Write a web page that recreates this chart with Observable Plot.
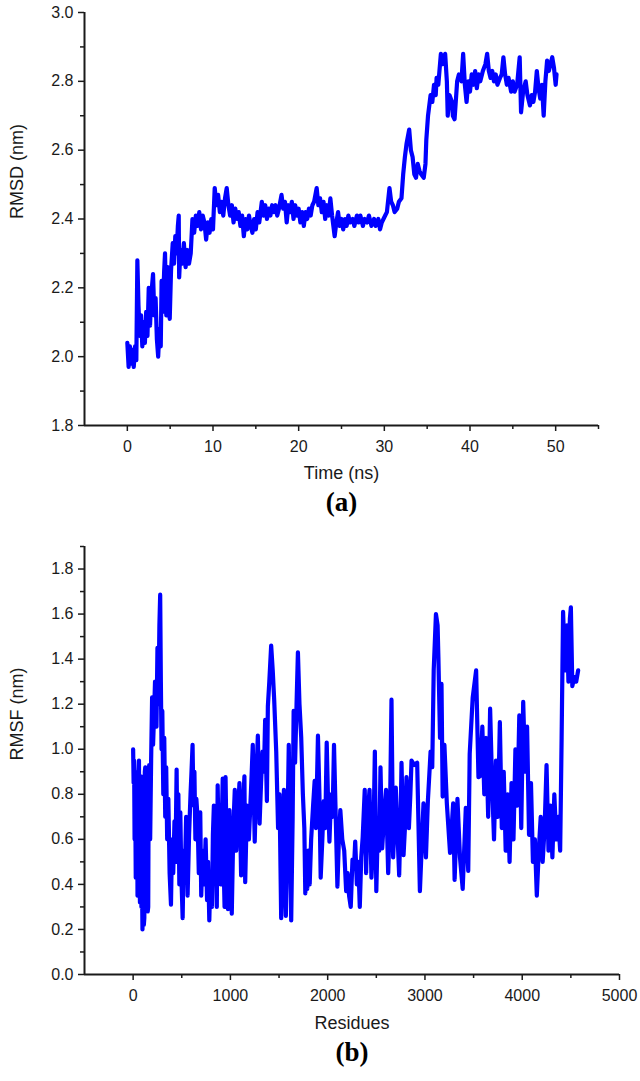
<!DOCTYPE html>
<html><head><meta charset="utf-8">
<script src="https://cdn.jsdelivr.net/npm/d3@7"></script>
<script src="https://cdn.jsdelivr.net/npm/@observablehq/plot@0.6"></script>
<style>body{margin:0;background:#fff;} #chart svg{display:block;}</style>
</head><body><div id="chart"></div>
<script>
// Panel (a): RMSD vs time
const rmsdPoints = [[0,2.04],[0.15,1.97],[0.3,2.03],[0.45,1.98],[0.6,2.02],[0.75,1.97],[0.9,2.03],[1.05,1.99],[1.17,2.28],[1.3,2.15],[1.45,2.06],[1.6,2.12],[1.75,2.03],[1.9,2.10],[2.05,2.04],[2.2,2.13],[2.35,2.06],[2.5,2.20],[2.65,2.09],[2.8,2.18],[3.0,2.24],[3.15,2.12],[3.3,2.17],[3.45,2.05],[3.6,2.00],[3.75,2.08],[3.9,2.03],[4.0,2.22],[4.15,2.13],[4.3,2.25],[4.4,2.30],[4.55,2.12],[4.7,2.26],[4.85,2.16],[4.95,2.11],[5.1,2.25],[5.3,2.33],[5.45,2.27],[5.6,2.35],[5.75,2.30],[5.9,2.38],[6.0,2.41],[6.05,2.23],[6.2,2.31],[6.4,2.27],[6.6,2.33],[6.8,2.26],[7.0,2.31],[7.2,2.27],[7.4,2.30],
[7.6,2.40],[7.8,2.36],[8.0,2.41],[8.2,2.38],[8.4,2.42],[8.6,2.37],[8.8,2.41],[9.0,2.39],[9.2,2.34],[9.4,2.39],[9.6,2.36],[9.8,2.40],[10.0,2.37],[10.2,2.49],[10.4,2.44],[10.6,2.47],[10.8,2.42],[11.0,2.45],[11.2,2.41],[11.4,2.46],[11.6,2.49],[11.8,2.44],[12.0,2.41],[12.2,2.44],[12.4,2.39],[12.6,2.43],[12.8,2.40],[13.0,2.42],[13.2,2.38],[13.4,2.41],[13.6,2.35],[13.8,2.40],[14.0,2.37],[14.2,2.41],[14.4,2.38],[14.6,2.36],[14.8,2.40],[15.0,2.37],[15.2,2.42],[15.4,2.39],[15.7,2.45],[15.9,2.41],[16.1,2.44],[16.3,2.40],[16.5,2.43],[16.7,2.41],[16.9,2.44],[17.1,2.42],[17.3,2.44],[17.5,2.41],[17.7,2.43],[18.0,2.47],[18.2,2.43],[18.4,2.45],[18.6,2.39],[18.8,2.44],[19.0,2.42],[19.2,2.45],[19.4,2.40],[19.6,2.44],[19.8,2.41],[20.0,2.43],[20.2,2.39],[20.4,2.42],[20.6,2.38],[20.8,2.42],[21.0,2.40],[21.2,2.43],[21.4,2.41],[21.6,2.44],[21.8,2.45],[22.1,2.49],[22.3,2.44],[22.5,2.46],[22.7,2.42],[22.9,2.45],[23.1,2.40],[23.3,2.44],[23.5,2.41],[23.7,2.46],[23.9,2.41],[24.2,2.35],[24.4,2.39],[24.6,2.42],[24.8,2.38],[25.0,2.40],[25.2,2.37],[25.4,2.40],[25.6,2.38],[25.8,2.41],[26.0,2.39],[26.3,2.40],[26.5,2.38],[26.8,2.41],[27.0,2.39],[27.2,2.41],[27.5,2.38],[27.7,2.40],[28.0,2.39],[28.2,2.41],[28.5,2.38],[28.8,2.40],[29.0,2.38],[29.3,2.40],[29.5,2.37],[29.7,2.39],[29.9,2.40],[30.1,2.41],[30.3,2.42],[30.6,2.49],[30.8,2.45],[31.0,2.44],[31.2,2.42],[31.5,2.43],[31.7,2.45],[32.0,2.46],[32.2,2.53],[32.4,2.58],[32.6,2.62],[32.9,2.66],[33.1,2.60],[33.3,2.58],[33.5,2.53],[33.7,2.52],[33.9,2.56],[34.1,2.54],[34.3,2.53],[34.6,2.52],[34.8,2.56],[34.9,2.63],[35.1,2.70],[35.4,2.76],[35.6,2.74],[35.8,2.79],[36.0,2.76],[36.1,2.81],[36.3,2.79],[36.6,2.88],[36.8,2.85],[37.1,2.88],[37.3,2.80],[37.4,2.70],[37.6,2.76],[37.9,2.74],[38.0,2.70],[38.2,2.69],[38.5,2.80],[38.7,2.82],[39.0,2.80],[39.2,2.88],[39.4,2.79],[39.6,2.74],[39.8,2.80],[40.0,2.77],[40.2,2.82],[40.4,2.79],[40.6,2.83],[40.8,2.78],[41.0,2.82],[41.2,2.80],[41.5,2.83],[41.8,2.85],[42.0,2.88],[42.2,2.83],[42.4,2.81],[42.6,2.83],[42.8,2.80],[43.0,2.82],[43.2,2.79],[43.5,2.81],[43.7,2.82],[43.9,2.87],[44.1,2.82],[44.3,2.79],[44.5,2.81],[44.8,2.77],[45.0,2.80],[45.2,2.77],[45.5,2.79],[45.8,2.87],[45.96,2.71],[46.2,2.77],[46.5,2.80],[46.7,2.76],[47.0,2.73],[47.2,2.76],[47.4,2.74],[47.6,2.77],[47.8,2.83],[48.0,2.78],[48.2,2.75],[48.4,2.79],[48.6,2.70],[48.8,2.80],[49.0,2.86],[49.2,2.83],[49.4,2.85],[49.6,2.87],[49.8,2.84],[50.0,2.79],[50.1,2.82]];

// Panel (b): RMSF vs residue
const rmsfPoints = [[0,1.00],[5,0.85],[10,0.95],[15,0.60],[20,0.90],[27,0.43],[33,0.80],[40,0.85],[45,0.35],[50,0.55],[55,0.90],[60,0.95],[65,0.45],[70,0.32],[75,0.80],[80,0.88],[85,0.30],[90,0.45],[96,0.20],[100,0.75],[105,0.70],[110,0.22],[115,0.25],[120,0.90],[125,0.92],[130,0.35],[135,0.40],[140,0.90],[145,0.85],[150,0.28],[155,0.30],[160,0.88],[165,0.93],[175,0.60],[185,0.95],[195,1.23],[205,1.02],[215,1.15],[225,1.30],[240,1.10],[250,1.45],[260,1.20],[270,1.55],[278,1.686],[285,1.30],[292,1.00],[300,1.17],[310,0.80],[320,1.05],[330,0.70],[340,0.92],[350,0.60],[362,0.78],[375,0.45],[389,0.31],[400,0.60],[412,0.45],[425,0.68],[435,0.50],[447,0.91],[455,0.55],[465,0.80],[475,0.40],[485,0.72],[495,0.45],[509,0.25],[520,0.55],[530,0.42],[545,0.70],[560,0.35],[575,0.62],[590,0.80],[600,0.90],[611,1.02],[620,0.75],[630,0.90],[640,0.60],[650,0.78],[662,0.70],[675,0.45],[690,0.72],[700,0.35],[715,0.55],[730,0.40],[745,0.60],[760,0.33],[770,0.50],[783,0.24],[795,0.45],[810,0.30],[820,0.62],[830,0.75],[840,0.42],[850,0.55],[860,0.30],[869,0.84],[880,0.55],[890,0.70],[900,0.40],[910,0.65],[921,0.87],[930,0.50],[940,0.30],
[950,0.876],[965,0.45],[975,0.29],[990,0.73],[1000,0.50],[1014,0.27],[1030,0.65],[1045,0.82],[1060,0.55],[1075,0.70],[1093,0.85],[1110,0.44],[1125,0.70],[1144,0.88],[1152,0.41],[1170,0.75],[1190,0.60],[1210,0.80],[1230,1.02],[1250,0.59],[1265,0.85],[1282,1.06],[1300,0.67],[1315,0.85],[1330,0.99],[1345,0.90],[1357,1.13],[1375,0.77],[1385,1.19],[1400,1.30],[1419,1.46],[1435,1.35],[1450,1.22],[1471,0.99],[1490,0.65],[1505,0.80],[1522,0.25],[1535,0.45],[1550,0.82],[1570,0.26],[1585,0.60],[1600,1.02],[1625,0.24],[1640,0.70],[1650,1.17],[1665,0.94],[1680,1.20],[1694,1.43],[1710,1.20],[1728,1.05],[1745,0.80],[1760,0.65],[1770,0.36],[1780,0.50],[1790,0.38],[1800,0.55],[1815,0.40],[1830,0.60],[1850,0.75],[1866,0.86],[1880,0.65],[1900,1.06],[1915,0.80],[1928,0.43],[1945,0.60],[1960,0.77],[1975,0.65],[1990,1.03],[2005,0.75],[2018,0.59],[2035,0.80],[2050,0.70],[2065,1.02],[2080,0.75],[2100,0.39],[2115,0.60],[2130,0.73],[2150,0.60],[2170,0.55],[2190,0.37],[2205,0.45],[2220,0.35],[2237,0.30],[2255,0.51],
[2270,0.47],[2283,0.59],[2300,0.40],[2315,0.50],[2330,0.30],[2345,0.52],[2360,0.61],[2381,0.82],[2395,0.45],[2410,0.70],[2430,0.82],[2450,0.43],[2470,0.60],[2485,0.99],[2500,0.37],[2515,0.65],[2530,0.55],[2543,0.92],[2560,0.56],[2580,0.70],[2600,0.82],[2622,0.45],[2640,0.70],[2656,1.22],[2673,0.52],[2690,0.70],[2700,0.83],[2720,0.60],[2735,0.44],[2750,0.70],[2759,0.94],[2780,0.53],[2800,0.70],[2810,0.876],[2835,0.65],[2850,0.80],[2862,0.95],[2890,0.93],[2920,0.94],[2948,0.37],[2965,0.55],[2985,0.76],[3010,0.52],[3030,0.77],[3058,0.99],[3075,0.92],[3090,1.35],[3113,1.60],[3130,1.55],[3138,1.41],[3155,1.05],[3170,1.29],[3182,0.79],[3200,1.02],[3225,0.76],[3258,0.54],[3290,0.76],[3305,0.42],[3334,0.78],[3360,0.52],[3388,0.38],[3420,0.74],[3445,0.46],[3460,0.98],[3491,1.23],[3526,1.35],[3550,0.876],
[3567,0.88],[3590,1.10],[3610,0.80],[3630,1.05],[3650,0.70],[3670,1.18],[3690,0.85],[3710,0.60],[3730,0.95],[3750,0.70],[3770,1.12],[3790,0.65],[3810,0.90],[3830,0.55],[3850,0.80],[3870,0.50],[3890,0.85],[3910,0.60],[3930,1.00],[3950,0.75],[3970,1.15],[3990,0.65],[4010,1.21],[4030,0.90],[4050,1.10],[4070,0.62],[4090,0.85],[4110,0.50],[4130,0.60],[4150,0.35],[4170,0.55],[4190,0.70],[4210,0.50],[4230,0.65],[4250,0.93],[4270,0.55],[4290,0.75],[4310,0.52],[4330,0.80],[4350,0.60],[4370,0.70],[4390,0.55],[4405,1.05],[4420,1.61],[4440,1.35],[4460,1.55],[4475,1.30],[4490,1.58],[4500,1.63],[4515,1.28],[4535,1.32],[4555,1.30],[4575,1.35]];

const timeTicks = [0,10,20,30,40,50];
const timeMinorTicks = [5,15,25,35,45,55];
const rmsdTicks = [1.8,2.0,2.2,2.4,2.6,2.8,3.0];
const rmsdMinorTicks = [1.9,2.1,2.3,2.5,2.7,2.9];
const residueTicks = [0,1000,2000,3000,4000,5000];
const residueMinorTicks = [500,1500,2500,3500,4500];
const rmsfTicks = [0,0.2,0.4,0.6,0.8,1.0,1.2,1.4,1.6,1.8];
const rmsfMinorTicks = [0.1,0.3,0.5,0.7,0.9,1.1,1.3,1.5,1.7,1.9];

const INK = "#1a1a1a";
const SANS = "'Liberation Sans', Arial, sans-serif";
const SERIF = "'Liberation Serif', 'Times New Roman', serif";

function panel(o) {
  return Plot.plot({
    width: 640, height: o.height,
    marginLeft: 84, marginRight: o.marginRight, marginTop: o.marginTop, marginBottom: o.marginBottom,
    style: {fontFamily: SANS, background: "#fff", color: INK},
    x: {domain: o.xDomain, label: null},
    y: {domain: o.yDomain, label: null},
    marks: [
      Plot.line(o.points, {x: d => d[0], y: d => d[1], stroke: "#0000ff", strokeWidth: 4.2, strokeLinejoin: "round", strokeLinecap: "round"}),
      Plot.axisX(o.xMinor, {tickSize: 4, text: null, stroke: INK, strokeWidth: 1.5}),
      Plot.axisX(o.xTicks, {tickSize: 6, tickPadding: 9, tickFormat: o.xFmt, fontSize: 16, stroke: INK, strokeWidth: 1.5, fill: INK}),
      Plot.axisY(o.yMinor, {tickSize: 4, text: null, stroke: INK, strokeWidth: 1.5}),
      Plot.axisY(o.yTicks, {tickSize: 6, tickPadding: 5, tickFormat: ".1f", fontSize: 16, stroke: INK, strokeWidth: 1.5, fill: INK}),
      Plot.ruleY([o.yDomain[0]], {stroke: INK, strokeWidth: 2}),
      Plot.ruleX([o.xDomain[0]], {stroke: INK, strokeWidth: 2}),
      Plot.text([o.xLabel], {frameAnchor: "bottom", dy: o.labelDy, fontSize: 18, fill: INK}),
      Plot.text([o.yLabel], {frameAnchor: "left", dx: -67, rotate: -90, fontSize: 18, fill: INK}),
      Plot.text([o.tag], {frameAnchor: "bottom", dy: o.tagDy, fontSize: 27, fontWeight: "bold", fontFamily: SERIF, fill: "#000"})
    ]
  });
}

const chartA = panel({
  points: rmsdPoints, xDomain: [-5, 55], yDomain: [1.8, 3.0],
  xTicks: timeTicks, xMinor: timeMinorTicks, yTicks: rmsdTicks, yMinor: rmsdMinorTicks,
  xFmt: "d", xLabel: "Time (ns)", yLabel: "RMSD (nm)", tag: "(a)",
  height: 530, marginTop: 12, marginRight: 42, marginBottom: 105, labelDy: 53, tagDy: 85
});
const chartB = panel({
  points: rmsfPoints, xDomain: [-500, 5000], yDomain: [0, 1.9],
  xTicks: residueTicks, xMinor: residueMinorTicks, yTicks: rmsfTicks, yMinor: rmsfMinorTicks,
  xFmt: "d", xLabel: "Residues", yLabel: "RMSF (nm)", tag: "(b)",
  height: 551, marginTop: 16, marginRight: 21, marginBottom: 107, labelDy: 54, tagDy: 86
});
const root = document.getElementById("chart");
root.append(chartA, chartB);
</script>
</body></html>
